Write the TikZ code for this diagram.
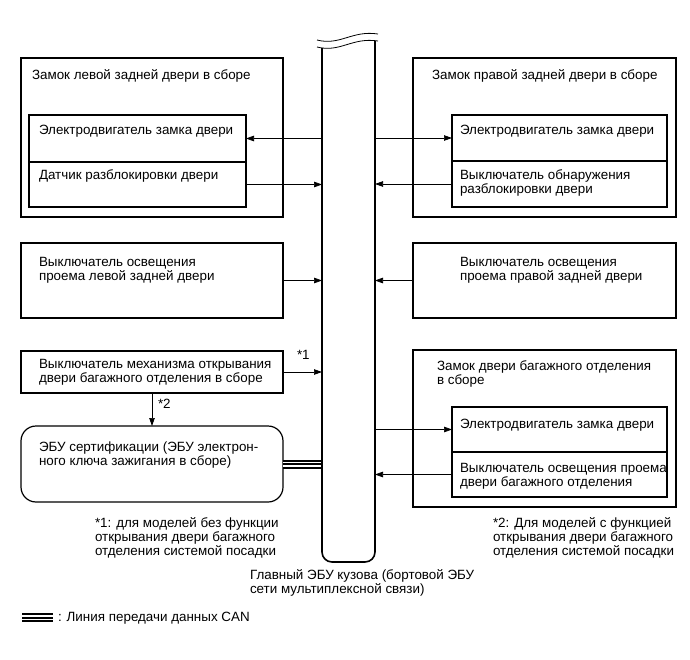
\documentclass[tikz,border=0pt]{standalone}
\usepackage{fontspec}
\setmainfont{Liberation Sans}
\usetikzlibrary{arrows.meta}
\begin{document}
\begin{tikzpicture}[x=1pt,y=-1pt,
  box/.style={draw, line width=1.2pt, inner sep=0pt, outer sep=0pt, anchor=north west},
  lbl/.style={anchor=base west, inner sep=0pt, outer sep=0pt, align=left, font=\fontsize{13.4}{14}\selectfont},
  arr/.style={line width=0.7pt, -{Triangle[length=8pt,width=5.5pt]}},
  can/.style={line width=9pt, postaction={draw=white, line width=5pt}, postaction={draw=black, line width=2pt}},
]
\useasboundingbox (0,0) rectangle (690,660);
% (multi-line labels are placed by the baseline of their last line)

% left top
\node[box, minimum width=262pt, minimum height=159pt] (LT) at (21,58) {};
\node[box, minimum width=217pt, minimum height=47pt] (LTa) at (29,115) {};
\node[box, minimum width=217pt, minimum height=45pt] (LTb) at (29,162) {};
\node[lbl] (tLT) at (32,80) {Замок левой задней двери в сборе};
\node[lbl] (tLTa) at (39,135) {Электродвигатель замка двери};
\node[lbl] (tLTb) at (39,180) {Датчик разблокировки двери};

% right top
\node[box, minimum width=263pt, minimum height=159pt] (RT) at (413,58) {};
\node[box, minimum width=215pt, minimum height=46pt] (RTa) at (452,115) {};
\node[box, minimum width=215pt, minimum height=46pt] (RTb) at (452,161) {};
\node[lbl] (tRT) at (432,80) {Замок правой задней двери в сборе};
\node[lbl] (tRTa) at (460,135) {Электродвигатель замка двери};
\node[lbl] (tRTb) at (460,194) {Выключатель обнаружения\\разблокировки двери};

% middle
\node[box, minimum width=262pt, minimum height=75pt] (LM) at (21,243) {};
\node[lbl] (tLM) at (39,280) {Выключатель освещения\\проема левой задней двери};
\node[box, minimum width=263pt, minimum height=75pt] (RM) at (413,243) {};
\node[lbl] (tRM) at (460,280) {Выключатель освещения\\проема правой задней двери};

% lower left
\node[box, minimum width=262pt, minimum height=42pt] (LL) at (21,351) {};
\node[lbl] (tLL) at (39,382) {Выключатель механизма открывания\\двери багажного отделения в сборе};
\node[box, rounded corners=15pt, minimum width=262pt, minimum height=76pt] (ECU) at (21,426) {};
\node[lbl] (tECU) at (39,465) {ЭБУ сертификации (ЭБУ электрон-\\ного ключа зажигания в сборе)};
\node[lbl] (s1) at (297,359) {*1};
\node[lbl] (s2) at (158,408) {*2};

% lower right
\node[box, minimum width=263pt, minimum height=157pt] (RL) at (413,350) {};
\node[box, minimum width=215pt, minimum height=45pt] (RLa) at (452,407) {};
\node[box, minimum width=215pt, minimum height=45pt] (RLb) at (452,452) {};
\node[lbl] (tRL) at (437,384) {Замок двери багажного отделения\\в сборе};
\node[lbl] (tRLa) at (460,428) {Электродвигатель замка двери};
\node[lbl] (tRLb) at (460,486) {Выключатель освещения проема\\двери багажного отделения};

% footnotes
\node[lbl] (f1) at (95,555) {*1: для моделей без функции\\открывания двери багажного\\отделения системой посадки};
\node[lbl] (f2) at (493,555) {*2: Для моделей с функцией\\открывания двери багажного\\отделения системой посадки};
\node[lbl] (main) at (250,593) {Главный ЭБУ кузова (бортовой ЭБУ\\сети мультиплексной связи)};

% bar
\node[inner sep=0pt, outer sep=0pt, minimum width=53pt, minimum height=514pt, anchor=north west] (bar) at (322,48) {};

% CAN
\draw[can] (ECU.east) -- (ECU.east -| bar.west);

\draw[line width=1.6pt, rounded corners=10pt] (bar.north west) -- (bar.south west) -- (bar.south east) -- ([yshift=7pt]bar.north east);
\draw[line width=0.8pt] (317,40) .. controls (340,46) and (352,30) .. (378,34);
\draw[line width=0.8pt] (317,47) .. controls (340,53) and (352,37) .. (378,41);

% arrows
\draw[arr] (LTa.east -| bar.west) -- (LTa.east);
\draw[arr] (LTb.east) -- (LTb.east -| bar.west);
\draw[arr] (RTa.west -| bar.east) -- (RTa.west);
\draw[arr] (RTb.west) -- (RTb.west -| bar.east);
\draw[arr] (LM.east) -- (LM.east -| bar.west);
\draw[arr] (RM.west) -- (RM.west -| bar.east);
\draw[arr] (LL.east) -- (LL.east -| bar.west);
\draw[arr] (LL.south) -- (ECU.north);
\draw[arr] (RLa.west -| bar.east) -- (RLa.west);
\draw[arr] (RLb.west) -- (RLb.west -| bar.east);

% legend
\coordinate (legA) at (22,617.5);
\coordinate (legB) at (53,617.5);
\draw[can] (legA) -- (legB);
\node[lbl] (legtxt) at (58,621) {: Линия передачи данных CAN};
\end{tikzpicture}
\end{document}
